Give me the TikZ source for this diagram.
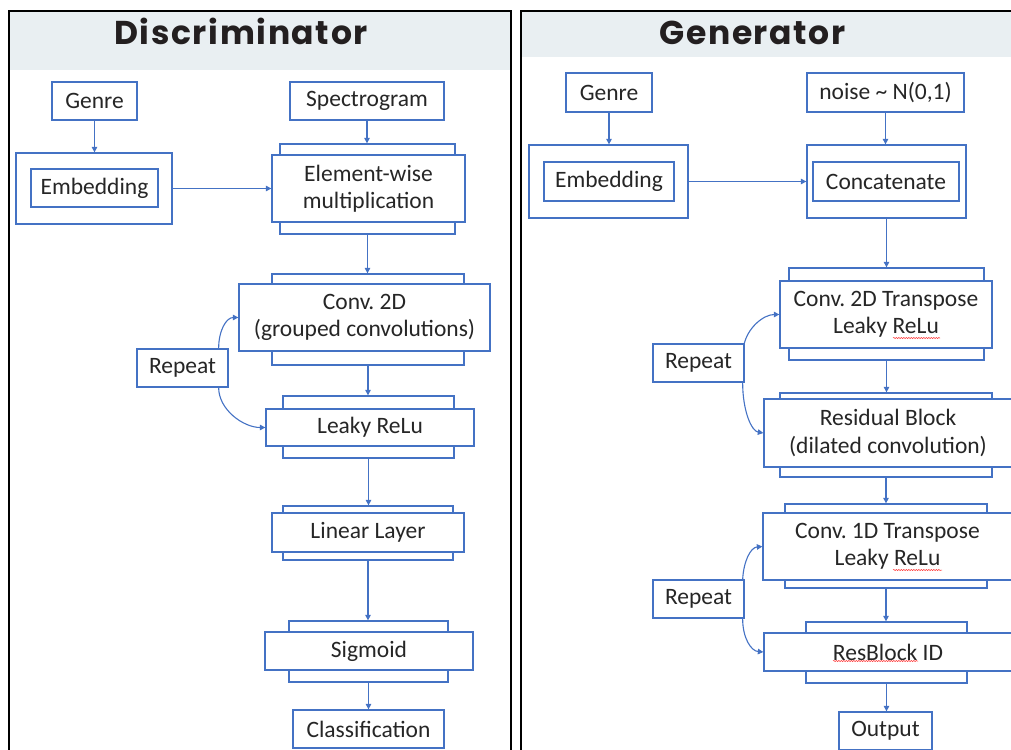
\documentclass[tikz,border=0pt]{standalone}
\usepackage{fontspec}
\setmainfont{Carlito}
\newfontfamily\titlefont[LetterSpace=5]{Poppins}
\usetikzlibrary{arrows.meta,calc,decorations.pathmorphing}
\definecolor{boxblue}{HTML}{4472C4}
\definecolor{hdrgray}{HTML}{E9EFF2}
\definecolor{titleink}{HTML}{231F20}
\frenchspacing
\begin{document}
\begin{tikzpicture}[x=1pt,y=-1pt,
  box/.style={draw=boxblue,line width=1.3pt,fill=white,inner sep=0pt,align=center,
    font=\fontsize{23.5}{27.5}\selectfont,text=black!85},
  back/.style={draw=boxblue,line width=1.3pt,fill=white,inner sep=0pt},
  flow/.style={draw=boxblue,line width=1.1pt,-{Triangle[length=5.5pt,width=5.5pt]}},
  ttl/.style={font=\titlefont\bfseries\fontsize{33}{36}\selectfont,text=titleink,anchor=base,inner sep=0pt},
  squig/.style={draw=red!80,line width=0.5pt,decorate,decoration={snake,amplitude=0.6pt,segment length=2.5pt}}
]
\useasboundingbox (0,0) rectangle (1011,749);
\clip (0,0) rectangle (1011,749);
% headers and panel frames
\fill[hdrgray] (9,12) rectangle (510,70);
\fill[hdrgray] (521,12) rectangle (1030,57);
\draw[black,line width=2pt] (8.5,11.5) rectangle (510.5,770);
\draw[black,line width=2pt] (520.5,11.5) rectangle (1040,770);
\node[ttl] (tD) at (241,45) {Discriminator};
\node[ttl] (tG) at (752.5,45) {Generator};

% ---------- Discriminator ----------
\node[box,minimum width=85,minimum height=38] (gD) at (94.5,101) {Genre};
\node[box,minimum width=154,minimum height=38] (sD) at (367,101) {Spectrogram};
\node[back,minimum width=156,minimum height=71] (embOD) at (94,188.5) {};
\node[box,minimum width=127,minimum height=38] (embID) at (94.5,188) {Embedding};
\node[back,minimum width=175,minimum height=90] (ewB) at (367.5,189) {};
\node[box,minimum width=193,minimum height=67] (ewF) at (368.5,188.5) {Element-wise\\multiplication};
\node[back,minimum width=192,minimum height=91] (convB) at (368,319.5) {};
\node[box,minimum width=251,minimum height=67] (convF) at (364.5,317.5) {Conv. 2D\\(grouped convolutions)};
\node[box,minimum width=91,minimum height=38] (repD) at (182.5,368) {Repeat};
\node[back,minimum width=171,minimum height=62] (lrB) at (368.5,427) {};
\node[box,minimum width=208,minimum height=37] (lrF) at (370,427.5) {Leaky ReLu};
\node[back,minimum width=170,minimum height=54] (linB) at (368,533) {};
\node[box,minimum width=192,minimum height=39] (linF) at (368,532.5) {Linear Layer};
\node[back,minimum width=159,minimum height=61] (sigB) at (368.5,651.5) {};
\node[box,minimum width=208,minimum height=38] (sigF) at (369,651) {Sigmoid};
\node[box,minimum width=151,minimum height=38] (cls) at (368.5,729) {Classification};

\draw[flow] (gD.south) -- (gD.south |- embOD.north);
\draw[flow] (sD.south) -- (sD.south |- ewB.north);
\draw[flow] (embOD.east) -- (embOD.east -| ewF.west);
\draw[flow] (ewB.south) -- (ewB.south |- convB.north);
\draw[flow] (convB.south) -- (convB.south |- lrB.north);
\draw[flow] (lrB.south) -- (lrB.south |- linB.north);
\draw[flow] (linB.south) -- (linB.south |- sigB.north);
\draw[flow] (sigB.south) -- (sigB.south |- cls.north);
\draw[flow] ($(repD.north east)+(-10,0)$) .. controls +(0,-18) and +(-12,0) .. (convF.west);
\draw[flow] ($(repD.south east)+(-10,0)$) .. controls +(0,22) and +(-22,0) .. (lrF.west);

% ---------- Generator ----------
\node[box,minimum width=86,minimum height=39] (gG) at (609,92.5) {Genre};
\node[box,minimum width=157,minimum height=39] (nG) at (885.5,92.5) {noise \textasciitilde{} N(0,1)};
\node[back,minimum width=159,minimum height=73] (embOG) at (608.5,181.5) {};
\node[box,minimum width=130,minimum height=39] (embIG) at (609,181.5) {Embedding};
\node[back,minimum width=159,minimum height=73] (catO) at (886.5,181.5) {};
\node[box,minimum width=146,minimum height=39] (catI) at (886,181.5) {Concatenate};
\node[back,minimum width=195,minimum height=92] (c2B) at (886.5,314) {};
\node[box,minimum width=212,minimum height=67] (c2F) at (886,314.5) {Conv. 2D Transpose\\Leaky ReLu};
\node[box,minimum width=91,minimum height=38] (repG1) at (698.5,363) {Repeat};
\node[back,minimum width=212,minimum height=84] (resB) at (886,435) {};
\node[box,minimum width=248,minimum height=68] (resF) at (888,433) {Residual Block\\(dilated convolution)};
\node[back,minimum width=202,minimum height=84] (c1B) at (886,546) {};
\node[box,minimum width=249,minimum height=67] (c1F) at (887.5,546.5) {Conv. 1D Transpose\\Leaky ReLu};
\node[box,minimum width=91,minimum height=38] (repG2) at (698.5,599) {Repeat};
\node[back,minimum width=161,minimum height=61] (rbB) at (886.5,652.5) {};
\node[box,minimum width=248,minimum height=38] (rbF) at (888,652) {ResBlock ID};
\node[box,minimum width=93,minimum height=38] (outG) at (885.5,731) {Output};

\draw[flow] (gG.south) -- (gG.south |- embOG.north);
\draw[flow] (nG.south) -- (nG.south |- catO.north);
\draw[flow] (embOG.east) -- (embOG.east -| catO.west);
\draw[flow] (catO.south) -- (catO.south |- c2B.north);
\draw[flow] (c2B.south) -- (c2B.south |- resB.north);
\draw[flow] (resB.south) -- (resB.south |- c1B.north);
\draw[flow] (c1B.south) -- (c1B.south |- rbB.north);
\draw[flow] (rbB.south) -- (rbB.south |- outG.north);
\draw[flow] ($(repG1.north east)+(-1,3)$) .. controls +(3,-18) and +(-16,0) .. (c2F.west);
\draw[flow] ($(repG1.south east)+(-2,0)$) .. controls +(0,28) and +(-12,-2) .. (resF.west);
\draw[flow] ($(repG2.north east)+(-2,0)$) .. controls +(1,-18) and +(-12,1) .. (c1F.west);
\draw[flow] ($(repG2.south east)+(-2,0)$) .. controls +(0,20) and +(-12,-1) .. (rbF.west);

% spell-check marks
\draw[squig] (893,338) -- (940,338);
\draw[squig] (893,570) -- (942,570);
\draw[squig] (833,661) -- (918,661);
\end{tikzpicture}
\end{document}
